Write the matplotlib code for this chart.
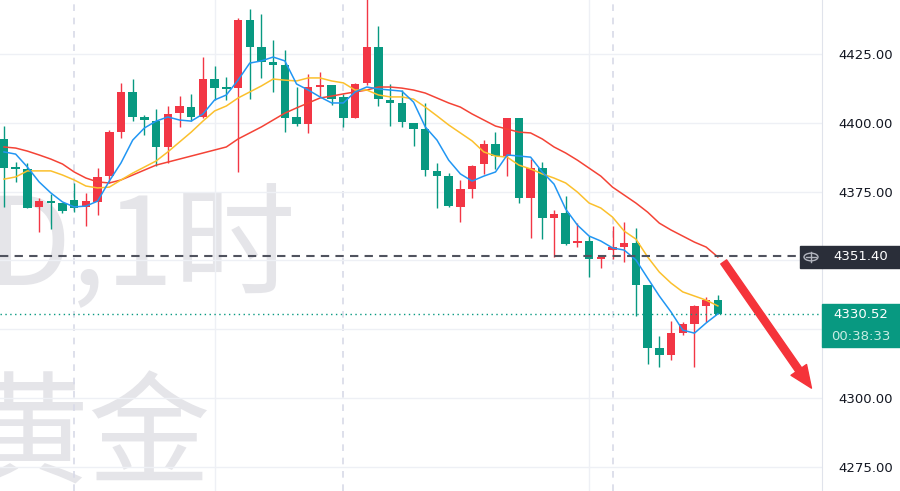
import matplotlib.pyplot as plt
from matplotlib.patches import Rectangle, Circle
from matplotlib.lines import Line2D

# hourly gold candles, red = up, green = down
opens = [4394.1, 4383.9, 4383.2, 4369.4, 4371.5, 4370.8, 4371.9, 4369.4, 4371.2, 4380.6,
         4396.6, 4411.2, 4402.1, 4400.6, 4391.2, 4403.5, 4405.7, 4402.1, 4415.9, 4413.0,
         4412.6, 4437.4, 4427.5, 4422.1, 4421.0, 4402.1, 4399.5, 4413.0, 4413.7, 4409.4,
         4401.7, 4414.5, 4427.5, 4408.3, 4407.2, 4399.9, 4397.7, 4382.5, 4380.6, 4369.4,
         4375.9, 4385.0, 4392.3, 4387.9, 4401.7, 4372.6, 4383.5, 4365.4, 4367.2, 4356.3,
         4357.0, 4350.5, 4353.7, 4354.8, 4356.3, 4341.0, 4318.1, 4315.5, 4323.5, 4326.8,
         4333.4, 4335.5]
highs = [4398.8, 4385.7, 4385.4, 4372.6, 4374.1, 4370.8, 4378.1, 4374.5, 4383.5, 4397.4,
         4414.5, 4415.9, 4402.8, 4405.0, 4406.1, 4409.7, 4410.5, 4423.9, 4420.6, 4416.6,
         4438.1, 4441.4, 4439.5, 4430.1, 4426.5, 4413.0, 4417.7, 4418.5, 4413.7, 4410.5,
         4414.5, 4446.0, 4435.2, 4414.1, 4411.9, 4399.9, 4407.2, 4385.4, 4381.7, 4379.2,
         4384.6, 4393.7, 4396.6, 4401.7, 4401.7, 4386.8, 4385.7, 4368.3, 4373.4, 4363.5,
         4358.8, 4351.5, 4362.5, 4363.9, 4361.7, 4341.0, 4322.5, 4327.9, 4327.5, 4333.7,
         4336.6, 4337.4]
lows = [4369.4, 4378.5, 4369.0, 4360.3, 4361.4, 4367.2, 4367.5, 4362.5, 4366.5, 4378.1,
        4394.5, 4400.6, 4395.5, 4384.3, 4385.4, 4398.5, 4400.6, 4401.7, 4408.3, 4408.3,
        4382.1, 4408.6, 4416.3, 4411.2, 4396.6, 4398.8, 4396.3, 4409.4, 4406.5, 4398.5,
        4401.7, 4413.7, 4406.1, 4398.8, 4398.5, 4391.5, 4380.6, 4369.0, 4369.4, 4363.9,
        4372.6, 4381.4, 4383.2, 4380.6, 4370.8, 4358.1, 4357.7, 4351.2, 4355.5, 4354.8,
        4343.9, 4347.2, 4350.5, 4349.4, 4329.7, 4312.3, 4311.2, 4313.7, 4322.8, 4311.2,
        4327.5, 4330.5]
closes = [4383.5, 4383.2, 4369.0, 4371.5, 4370.8, 4367.9, 4369.0, 4371.5, 4380.3, 4396.6,
          4411.2, 4402.1, 4401.0, 4391.2, 4403.2, 4406.1, 4402.1, 4415.9, 4412.6, 4412.3,
          4437.4, 4427.5, 4422.1, 4421.0, 4401.7, 4399.5, 4413.0, 4413.7, 4408.6, 4401.7,
          4414.1, 4427.5, 4408.6, 4407.2, 4400.3, 4397.7, 4382.8, 4380.6, 4369.7, 4375.9,
          4384.3, 4392.3, 4387.9, 4401.7, 4372.6, 4383.5, 4365.4, 4366.8, 4355.9, 4357.0,
          4350.5, 4351.2, 4354.8, 4356.3, 4341.0, 4318.1, 4315.5, 4323.5, 4326.8, 4333.4,
          4335.5, 4330.52]

# moving averages
ma_fast = [4389.4, 4388.6, 4383.9, 4378.5, 4374.5, 4371.2, 4369.4, 4369.7, 4371.5, 4378.8,
           4385.4, 4393.7, 4398.1, 4400.6, 4402.1, 4401.0, 4400.6, 4403.2, 4408.3, 4410.1,
           4415.5, 4421.7, 4422.5, 4423.9, 4422.5, 4414.1, 4411.9, 4409.4, 4407.2, 4407.2,
           4411.2, 4413.0, 4412.3, 4411.9, 4411.5, 4407.5, 4398.5, 4393.7, 4386.4, 4381.4,
           4378.8, 4380.6, 4382.1, 4388.3, 4387.9, 4387.5, 4382.1, 4377.7, 4368.6, 4362.8,
           4358.8, 4357.0, 4354.5, 4353.7, 4350.1, 4343.5, 4337.0, 4331.2, 4324.6, 4323.5,
           4327.2, 4330.5]
ma_mid = [4379.5, 4380.3, 4382.5, 4382.5, 4382.5, 4381.0, 4379.2, 4377.0, 4376.3, 4376.6,
          4379.2, 4381.7, 4383.9, 4386.1, 4389.4, 4393.0, 4396.6, 4400.6, 4404.3, 4406.1,
          4409.0, 4411.2, 4413.4, 4415.9, 4415.5, 4415.2, 4416.3, 4416.3, 4415.2, 4414.5,
          4411.9, 4411.9, 4410.1, 4409.4, 4409.4, 4408.6, 4405.7, 4402.5, 4399.2, 4396.3,
          4393.4, 4389.4, 4387.9, 4387.5, 4384.6, 4383.2, 4381.4, 4379.9, 4378.1, 4374.8,
          4370.8, 4369.0, 4365.7, 4360.6, 4357.7, 4351.2, 4345.7, 4341.7, 4338.5, 4337.0,
          4335.5, 4333.4]
ma_slow = [4391.2, 4390.8, 4389.7, 4388.3, 4386.8, 4385.0, 4382.1, 4379.9, 4378.5, 4378.1,
           4379.2, 4381.0, 4382.8, 4384.6, 4385.7, 4386.8, 4387.9, 4389.0, 4390.1, 4391.2,
           4394.1, 4396.3, 4398.5, 4401.0, 4403.5, 4405.4, 4407.2, 4409.0, 4409.7, 4410.5,
           4411.2, 4411.9, 4413.0, 4413.0, 4412.6, 4411.9, 4410.8, 4409.0, 4407.2, 4405.7,
           4403.2, 4401.0, 4398.8, 4397.7, 4396.6, 4396.3, 4394.1, 4391.2, 4389.0, 4386.4,
           4383.5, 4380.6, 4376.6, 4373.7, 4370.8, 4367.5, 4363.5, 4361.0, 4358.8, 4356.6,
           4354.8, 4351.2]

yticks = [4275, 4300, 4325, 4350, 4375, 4400, 4425]
hidden_ticks = [4325, 4350]   # covered by the price boxes
level_price = 4351.40
last_price = 4330.52
countdown = "00:38:33"
watermark_top = "XAUUSD,1时"
watermark_bottom = "黄金"
day_breaks = [6, 29, 52]
time_grid = [18, 50]
arrow_from = (61.5, 4349.4)
arrow_to = (69.0, 4303.5)

UP = '#f23645'
DOWN = '#089981'
W, H = 900, 491


def fx(px):
    return px / W


def fy(py):
    return 1 - py / H


fig = plt.figure(figsize=(W / 100, H / 100), dpi=100)
fig.patch.set_facecolor('white')
ax = fig.add_axes([0, 0, 822 / W, 1])
ax.set_xlim(-0.34, 69.9)
ax.set_ylim(4266.1, 4444.64)

for s in ['top', 'left', 'bottom']:
    ax.spines[s].set_visible(False)
ax.spines['right'].set_color('#e0e3eb')
ax.set_xticks([])
ax.yaxis.tick_right()
ax.set_yticks(yticks)
ax.set_yticklabels(["" if v in hidden_ticks else f"{v:.2f}" for v in yticks])
ax.tick_params(axis='y', length=0, pad=12, labelsize=9.5, labelcolor='#131722')
ax.grid(axis='y', color='#eef0f5', lw=1)
ax.set_axisbelow(True)

for t in time_grid:
    ax.axvline(t, color='#eef0f5', lw=1, zorder=0.5)
for t in day_breaks:
    ax.axvline(t, color='#d8dae8', lw=1.2, ls=(0, (4, 4)), zorder=0.5)

# watermark, partly running off the left edge as in the original
wm = dict(transform=fig.transFigure, color='#e5e5e9', fontsize=88,
          family=['Noto Sans CJK SC', 'DejaVu Sans'], zorder=0.2, clip_on=False)
ax.text(fx(297), fy(285), watermark_top, ha='right', va='baseline', **wm)
ax.text(fx(211), fy(474), watermark_bottom, ha='right', va='baseline', **wm)

# candles
for i in range(len(opens)):
    o, h, l, c = opens[i], highs[i], lows[i], closes[i]
    col = UP if c >= o else DOWN
    ax.vlines(i, l, h, color=col, lw=1, zorder=2)
    body = max(abs(c - o), 0.35)
    ax.bar(i, body, bottom=min(o, c), width=0.72, color=col, zorder=3)

xs = list(range(len(closes)))
ax.plot(xs, ma_slow, color='#f44336', lw=1.1, zorder=4)
ax.plot(xs, ma_mid, color='#fbc02d', lw=1.1, zorder=4)
ax.plot(xs, ma_fast, color='#2196f3', lw=1.1, zorder=4)

ax.axhline(level_price, color='#50535e', lw=1.5, ls=(0, (4, 3)), zorder=5)
ax.axhline(last_price, color=DOWN, lw=1, ls=(0, (1, 2.5)), zorder=5)

ax.annotate('', xy=arrow_to, xytext=arrow_from,
            arrowprops=dict(arrowstyle='simple,head_length=1.0,head_width=0.85,tail_width=0.32',
                            color='#f5333a', shrinkA=0, shrinkB=0, mutation_scale=16),
            zorder=6)

# price scale labels
fig.add_artist(Rectangle((fx(800), fy(268)), fx(100), 22 / H,
                         transform=fig.transFigure, color='#2a2e39', zorder=5))
fig.add_artist(Circle((fx(811), fy(257)), 7 / W, transform=fig.transFigure,
                      fill=False, ec='#b2b5be', lw=1, zorder=6))
fig.add_artist(Line2D([fx(806), fx(816)], [fy(257), fy(257)],
                      transform=fig.transFigure, color='#b2b5be', lw=1, zorder=6))
fig.add_artist(Line2D([fx(811), fx(811)], [fy(252), fy(262)],
                      transform=fig.transFigure, color='#b2b5be', lw=1, zorder=6))
fig.text(fx(861), fy(257), f"{level_price:.2f}", color='white', fontsize=9.5,
         ha='center', va='center', zorder=7)

fig.add_artist(Rectangle((fx(822), fy(347)), fx(78), 43 / H,
                         transform=fig.transFigure, color=DOWN, zorder=5))
fig.text(fx(861), fy(315), f"{last_price:.2f}", color='white', fontsize=9.5,
         ha='center', va='center', zorder=7)
fig.text(fx(861), fy(336), countdown, color='#c8ece3', fontsize=9.5,
         ha='center', va='center', zorder=7)

fig.savefig('out.png', dpi=100)
